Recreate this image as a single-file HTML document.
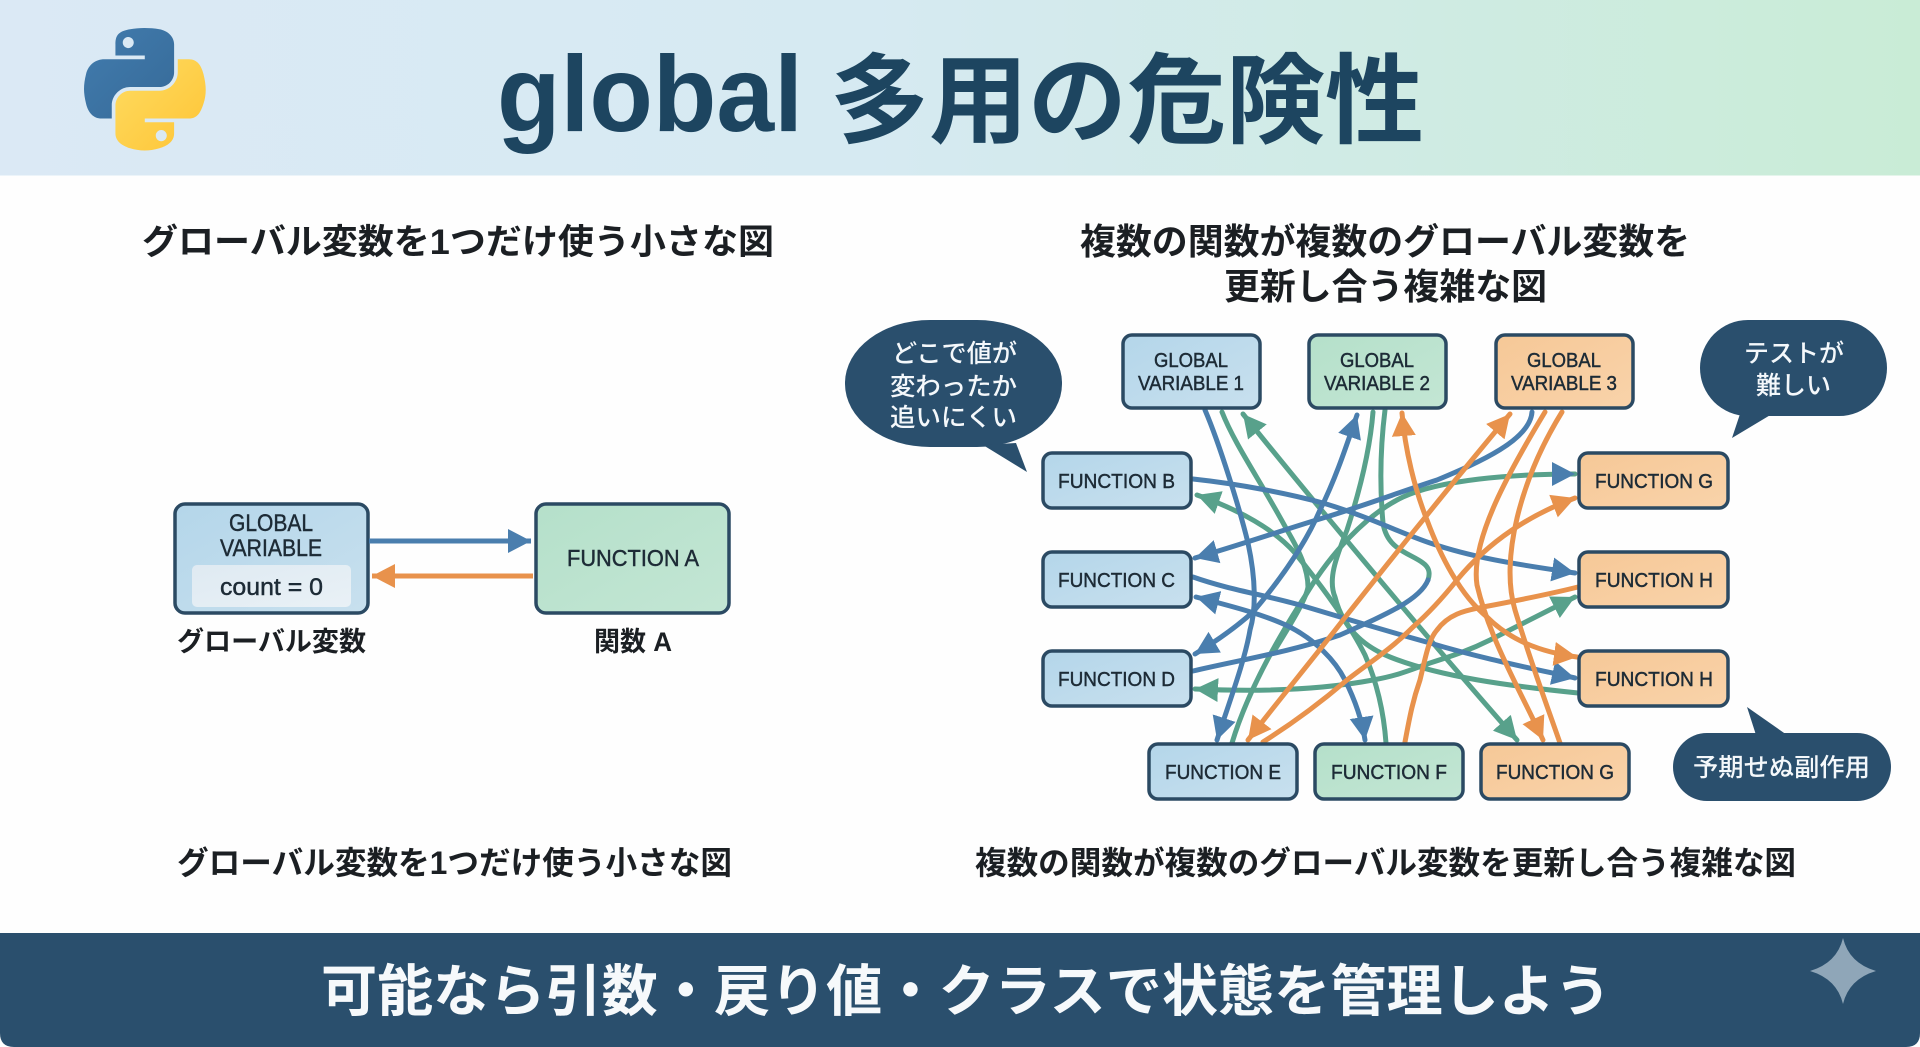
<!DOCTYPE html>
<html lang="ja">
<head>
<meta charset="utf-8">
<title>global 多用の危険性</title>
<style>
html,body{margin:0;padding:0;background:#fff;width:1920px;height:1047px;overflow:hidden}
svg{display:block}
text{font-family:"Liberation Sans","Noto Sans CJK JP",sans-serif}
.h{font-weight:700;fill:#1b1f23}
.box{stroke:#2b4a63;stroke-width:3.5}
.t{fill:#1d2b36;font-weight:400;stroke:#1d2b36;stroke-width:.45}
.w{fill:#f4f8fb;font-weight:500}
.c{fill:none;stroke-width:5;stroke-linecap:round}
.bl{stroke:#4a7eae}.gr{stroke:#58a18b}.or{stroke:#e8924c}
</style>
</head>
<body>
<svg xmlns="http://www.w3.org/2000/svg" width="1920" height="1047" viewBox="0 0 1920 1047">
<defs>
<linearGradient id="hd" x1="0" x2="1" y1="0" y2="0"><stop offset="0" stop-color="#dbe9f5"/><stop offset=".45" stop-color="#d6eaf2"/><stop offset="1" stop-color="#c9ecd6"/></linearGradient>
<linearGradient id="fb" x1="0" x2="1" y1="0" y2="1"><stop offset="0" stop-color="#b4d6ea"/><stop offset="1" stop-color="#c8e0ee"/></linearGradient>
<linearGradient id="fg" x1="0" x2="1" y1="0" y2="1"><stop offset="0" stop-color="#b5e0ca"/><stop offset="1" stop-color="#c3e6d4"/></linearGradient>
<linearGradient id="fo" x1="0" x2="1" y1="0" y2="1"><stop offset="0" stop-color="#f6c897"/><stop offset="1" stop-color="#f9d3aa"/></linearGradient>
<linearGradient id="fc" x1="0" x2="1" y1="0" y2="1"><stop offset="0" stop-color="#dfeaf2"/><stop offset="1" stop-color="#e9f1f6"/></linearGradient>
<linearGradient id="py1" x1="0" x2="1" y1="0" y2="1"><stop offset="0" stop-color="#427cae"/><stop offset="1" stop-color="#366a98"/></linearGradient>
<linearGradient id="py2" x1="0" x2="1" y1="0" y2="1"><stop offset="0" stop-color="#ffdc62"/><stop offset="1" stop-color="#fdc435"/></linearGradient>
<marker id="mb" markerUnits="userSpaceOnUse" markerWidth="26" markerHeight="28" refX="23" refY="13" orient="auto-start-reverse"><path d="M0,1 L23,13 L0,25 Z" fill="#4a7eae"/></marker>
<marker id="mg" markerUnits="userSpaceOnUse" markerWidth="26" markerHeight="28" refX="23" refY="13" orient="auto-start-reverse"><path d="M0,1 L23,13 L0,25 Z" fill="#58a18b"/></marker>
<marker id="mo" markerUnits="userSpaceOnUse" markerWidth="26" markerHeight="28" refX="23" refY="13" orient="auto-start-reverse"><path d="M0,1 L23,13 L0,25 Z" fill="#e8924c"/></marker>
</defs>

<rect width="1920" height="1047" fill="#fefefe"/>
<rect width="1920" height="175.5" fill="url(#hd)"/>

<g transform="translate(84,28) scale(1.095,1.09)">
<path fill="url(#py1)" fill-rule="evenodd" d="M54.919,0.001 C50.335,0.022 45.958,0.413 42.106,1.095 C30.76,3.099 28.7,7.295 28.7,15.032 V25.25 H55.513 V28.656 H28.7 H18.638 C10.846,28.656 4.023,33.34 1.889,42.25 C-0.573,52.463 -0.682,58.835 1.889,69.488 C3.795,77.417 8.346,83.082 16.138,83.082 H25.357 V70.832 C25.357,61.982 33.014,54.176 42.106,54.176 H68.888 C76.343,54.176 82.294,48.038 82.294,40.551 V15.032 C82.294,7.769 76.167,2.313 68.888,1.095 C64.28,0.328 59.5,-0.02 54.919,0.001 Z M40.419,8.22 C43.189,8.22 45.451,10.519 45.451,13.345 C45.451,16.161 43.189,18.438 40.419,18.438 C37.64,18.438 35.388,16.161 35.388,13.345 C35.388,10.519 37.64,8.22 40.419,8.22 Z"/>
<path fill="url(#py2)" fill-rule="evenodd" d="M85.638,28.656 V40.563 C85.638,49.794 77.812,57.563 68.888,57.563 H42.106 C34.77,57.563 28.7,63.841 28.7,71.188 V96.719 C28.7,103.985 35.019,108.259 42.106,110.344 C50.593,112.84 58.732,113.291 68.888,110.344 C75.638,108.389 82.294,104.455 82.294,96.719 V86.5 H55.513 V83.082 H82.294 H95.701 C103.493,83.082 106.397,77.647 109.107,69.488 C111.906,61.089 111.787,53.012 109.107,42.25 C107.181,34.501 103.503,28.656 95.701,28.656 Z M70.575,93.625 C73.354,93.625 75.606,95.902 75.606,98.719 C75.606,101.545 73.354,103.844 70.575,103.844 C67.805,103.844 65.544,101.545 65.544,98.719 C65.544,95.902 67.805,93.625 70.575,93.625 Z"/>
</g>

<text x="497" y="131" font-size="108" font-weight="700" fill="#1d4560" textLength="306" lengthAdjust="spacingAndGlyphs">global</text>
<text x="830" y="135" font-size="98" font-weight="700" fill="#1d4560" textLength="594" lengthAdjust="spacingAndGlyphs">多用の危険性</text>

<!-- headings -->
<text class="h" x="142" y="254" font-size="35" textLength="632" lengthAdjust="spacingAndGlyphs">グローバル変数を1つだけ使う小さな図</text>
<text class="h" x="1080" y="254" font-size="36" textLength="610" lengthAdjust="spacingAndGlyphs">複数の関数が複数のグローバル変数を</text>
<text class="h" x="1224" y="299" font-size="36" textLength="323" lengthAdjust="spacingAndGlyphs">更新し合う複雑な図</text>
<text class="h" x="177" y="874" font-size="32" textLength="555" lengthAdjust="spacingAndGlyphs">グローバル変数を1つだけ使う小さな図</text>
<text class="h" x="975" y="874" font-size="32" textLength="821" lengthAdjust="spacingAndGlyphs">複数の関数が複数のグローバル変数を更新し合う複雑な図</text>

<!-- left diagram -->
<rect class="box" x="175" y="504" width="193" height="109" rx="10" fill="url(#fb)"/>
<rect x="192" y="565" width="159" height="42" rx="5" fill="url(#fc)"/>
<rect class="box" x="536" y="504" width="193" height="109" rx="10" fill="url(#fg)"/>
<text class="t" x="229" y="531" font-size="24" textLength="84" lengthAdjust="spacingAndGlyphs">GLOBAL</text>
<text class="t" x="220" y="556" font-size="24" textLength="102" lengthAdjust="spacingAndGlyphs">VARIABLE</text>
<text class="t" x="220" y="595" font-size="24" textLength="103" lengthAdjust="spacingAndGlyphs">count = 0</text>
<text class="t" x="567" y="566" font-size="23" textLength="132" lengthAdjust="spacingAndGlyphs">FUNCTION A</text>
<path class="c bl" style="stroke-linecap:butt" d="M369,541 H531" marker-end="url(#mb)"/>
<path class="c or" style="stroke-linecap:butt" d="M533,576 H372" marker-end="url(#mo)"/>
<text class="h" x="177" y="651" font-size="27" textLength="189" lengthAdjust="spacingAndGlyphs">グローバル変数</text>
<text class="h" x="594" y="651" font-size="27" textLength="78" lengthAdjust="spacingAndGlyphs">関数 A</text>

<!-- connectors -->
<g>
<path class="c gr" d="M1222,412 C1235,445 1260,480 1287,530 C1300,552 1308,570 1308,587 C1306,600 1290,625 1273,653"/>
<path class="c gr" d="M1373,412 C1370,450 1360,490 1347,530 C1335,560 1328,580 1335,597 C1342,625 1360,645 1390,657 C1440,677 1510,686 1578,693"/>
<path class="c gr" d="M1243,414 C1300,485 1420,630 1517,740" marker-start="url(#mg)" marker-end="url(#mg)"/>
<path class="c gr" d="M1197,495 C1240,510 1275,530 1295,553 C1325,590 1350,625 1365,655 C1378,685 1384,715 1386,743" marker-start="url(#mg)"/>
<path class="c gr" d="M1195,689 C1260,692 1320,690 1373,680 C1400,675 1410,670 1430,663 C1455,655 1470,650 1490,640 C1520,625 1545,612 1575,597" marker-start="url(#mg)" marker-end="url(#mg)"/>
<path class="c gr" d="M1232,743 C1245,700 1270,650 1307,593 C1330,555 1365,515 1403,497 C1440,480 1510,474 1575,474" marker-end="url(#mb)"/>
<path class="c gr" d="M1385,410 C1380,450 1380,490 1383,523 C1387,550 1410,553 1423,563 C1430,568 1430,574 1428,580"/>
<path class="c bl" d="M1428,580 C1420,600 1385,615 1340,635 C1290,652 1240,660 1193,671"/>
<path class="c bl" d="M1205,410 C1220,445 1240,510 1248,543 C1256,580 1256,610 1250,630 C1245,660 1230,700 1217,740" marker-end="url(#mb)"/>
<path class="c bl" d="M1193,479 C1240,484 1290,494 1323,503 C1370,517 1400,533 1430,543 C1480,560 1530,566 1575,573" marker-end="url(#mb)"/>
<path class="c bl" d="M1357,415 C1345,450 1335,480 1320,510 C1305,545 1280,580 1253,612 C1235,628 1215,642 1195,654" marker-start="url(#mb)" marker-end="url(#mb)"/>
<path class="c bl" d="M1532,412 C1530,440 1480,462 1437,480 C1400,492 1360,507 1323,518 C1280,531 1240,545 1195,558" marker-end="url(#mb)"/>
<path class="c bl" d="M1193,577 C1230,590 1265,595 1300,605 C1340,617 1390,632 1430,643 C1480,658 1530,668 1575,678" marker-end="url(#mb)"/>
<path class="c bl" d="M1196,597 C1235,607 1265,615 1290,627 C1315,640 1335,660 1345,680 C1355,700 1362,720 1365,740" marker-start="url(#mb)" marker-end="url(#mb)"/>
<path class="c or" d="M1510,414 C1480,450 1455,480 1423,520 C1400,548 1377,577 1343,620 C1320,650 1275,705 1248,740" marker-start="url(#mo)" marker-end="url(#mo)"/>
<path class="c or" d="M1402,413 C1405,450 1415,490 1427,520 C1440,555 1460,595 1487,617 C1510,640 1540,652 1577,657" marker-start="url(#mo)" marker-end="url(#mo)"/>
<path class="c or" d="M1263,742 C1290,725 1320,703 1347,680 C1370,662 1390,650 1413,627 C1430,612 1445,595 1457,580 C1490,540 1530,515 1575,498" marker-end="url(#mo)"/>
<path class="c or" d="M1545,412 C1510,470 1470,540 1477,585 C1490,640 1520,690 1543,740" marker-end="url(#mo)"/>
<path class="c or" d="M1562,412 C1520,480 1500,560 1515,610 C1530,660 1545,700 1560,743"/>
<path class="c or" d="M1405,742 C1410,715 1413,700 1420,680 C1425,660 1428,640 1437,630 C1450,612 1470,610 1483,607 C1520,600 1550,594 1578,587"/>
</g>

<!-- right boxes -->
<g>
<rect class="box" x="1123" y="335" width="137" height="73" rx="9" fill="url(#fb)"/>
<rect class="box" x="1309" y="335" width="137" height="73" rx="9" fill="url(#fg)"/>
<rect class="box" x="1496" y="335" width="137" height="73" rx="9" fill="url(#fo)"/>
<text class="t" x="1154" y="367" font-size="20" textLength="74" lengthAdjust="spacingAndGlyphs">GLOBAL</text>
<text class="t" x="1138" y="390" font-size="20" textLength="106" lengthAdjust="spacingAndGlyphs">VARIABLE 1</text>
<text class="t" x="1340" y="367" font-size="20" textLength="74" lengthAdjust="spacingAndGlyphs">GLOBAL</text>
<text class="t" x="1324" y="390" font-size="20" textLength="106" lengthAdjust="spacingAndGlyphs">VARIABLE 2</text>
<text class="t" x="1527" y="367" font-size="20" textLength="74" lengthAdjust="spacingAndGlyphs">GLOBAL</text>
<text class="t" x="1511" y="390" font-size="20" textLength="106" lengthAdjust="spacingAndGlyphs">VARIABLE 3</text>

<rect class="box" x="1043" y="453" width="148" height="55" rx="9" fill="url(#fb)"/>
<rect class="box" x="1043" y="552" width="148" height="55" rx="9" fill="url(#fb)"/>
<rect class="box" x="1043" y="651" width="148" height="55" rx="9" fill="url(#fb)"/>
<text class="t" x="1058" y="488" font-size="20" textLength="117" lengthAdjust="spacingAndGlyphs">FUNCTION B</text>
<text class="t" x="1058" y="587" font-size="20" textLength="117" lengthAdjust="spacingAndGlyphs">FUNCTION C</text>
<text class="t" x="1058" y="686" font-size="20" textLength="117" lengthAdjust="spacingAndGlyphs">FUNCTION D</text>

<rect class="box" x="1579" y="453" width="149" height="55" rx="9" fill="url(#fo)"/>
<rect class="box" x="1579" y="552" width="149" height="55" rx="9" fill="url(#fo)"/>
<rect class="box" x="1579" y="651" width="149" height="55" rx="9" fill="url(#fo)"/>
<text class="t" x="1595" y="488" font-size="20" textLength="118" lengthAdjust="spacingAndGlyphs">FUNCTION G</text>
<text class="t" x="1595" y="587" font-size="20" textLength="118" lengthAdjust="spacingAndGlyphs">FUNCTION H</text>
<text class="t" x="1595" y="686" font-size="20" textLength="118" lengthAdjust="spacingAndGlyphs">FUNCTION H</text>

<rect class="box" x="1149" y="744" width="148" height="55" rx="9" fill="url(#fb)"/>
<rect class="box" x="1315" y="744" width="148" height="55" rx="9" fill="url(#fg)"/>
<rect class="box" x="1481" y="744" width="148" height="55" rx="9" fill="url(#fo)"/>
<text class="t" x="1165" y="779" font-size="20" textLength="116" lengthAdjust="spacingAndGlyphs">FUNCTION E</text>
<text class="t" x="1331" y="779" font-size="20" textLength="116" lengthAdjust="spacingAndGlyphs">FUNCTION F</text>
<text class="t" x="1496" y="779" font-size="20" textLength="118" lengthAdjust="spacingAndGlyphs">FUNCTION G</text>
</g>

<!-- bubbles -->
<g fill="#2a4f6d">
<rect x="845" y="320" width="217" height="127" rx="85" ry="63"/>
<path d="M983,445 L1027,472 L1016,443 Z"/>
<rect x="1700" y="320" width="187" height="96" rx="48"/>
<path d="M1740,414 L1732,438 L1772,414 Z"/>
<rect x="1673" y="733" width="218" height="68" rx="34"/>
<path d="M1756,735 L1747,707 L1787,735 Z"/>
</g>
<text class="w" x="892" y="362" font-size="25" textLength="125" lengthAdjust="spacingAndGlyphs">どこで値が</text>
<text class="w" x="890" y="395" font-size="25" textLength="127" lengthAdjust="spacingAndGlyphs">変わったか</text>
<text class="w" x="890" y="426" font-size="25" textLength="127" lengthAdjust="spacingAndGlyphs">追いにくい</text>
<text class="w" x="1744" y="362" font-size="25" textLength="100" lengthAdjust="spacingAndGlyphs">テストが</text>
<text class="w" x="1756" y="394" font-size="25" textLength="75" lengthAdjust="spacingAndGlyphs">難しい</text>
<text class="w" x="1693" y="776" font-size="25" textLength="177" lengthAdjust="spacingAndGlyphs">予期せぬ副作用</text>

<!-- footer -->
<path d="M0,933 H1920 V1033 Q1920,1047 1906,1047 H14 Q0,1047 0,1033 Z" fill="#2a4f6d"/>
<text x="321" y="1011" font-size="56" font-weight="700" fill="#f6f9fb" textLength="1290" lengthAdjust="spacingAndGlyphs">可能なら引数・戻り値・クラスで状態を管理しよう</text>
<path d="M1843,938 Q1849,963 1876,971 Q1849,979 1843,1004 Q1837,979 1810,971 Q1837,963 1843,938 Z" fill="#8fa6b8"/>
</svg>
</body>
</html>
